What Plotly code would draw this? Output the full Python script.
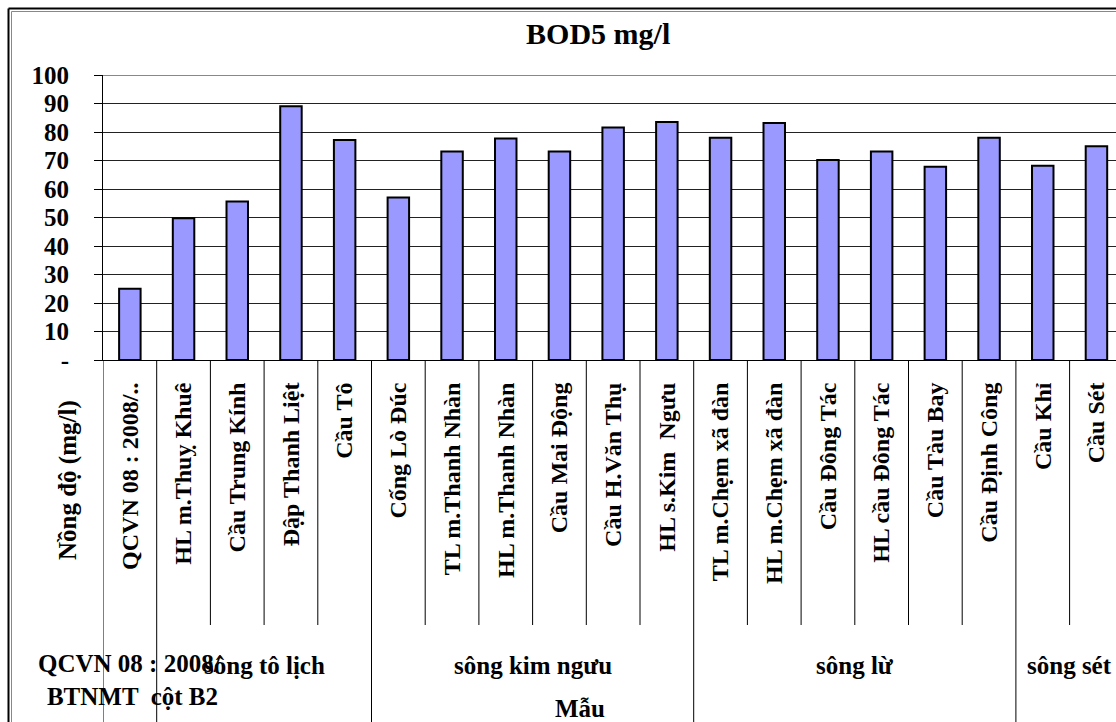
import plotly.graph_objects as go

categories = ["QCVN 08 : 2008/..", "HL m.Thuỵ Khuê", "Cầu Trung Kính", "Đập Thanh Liệt", "Cầu Tô",
              "Cống Lò Đúc", "TL m.Thanh Nhàn", "HL m.Thanh Nhàn", "Cầu Mai Động", "Cầu H.Văn Thụ",
              "HL s.Kim  Ngưu", "TL m.Chẹm xã đàn", "HL m.Chẹm xã đàn", "Cầu Đông Tác", "HL cầu Đông Tác",
              "Cầu Tàu Bay", "Cầu Định Công", "Cầu Khỉ", "Cầu Sét"]
values = [25, 49.7, 55.6, 89, 77.2, 57, 73.2, 77.7, 73.2, 81.6, 83.5, 78, 83.2, 70.2, 73.2, 67.8, 78, 68.2, 75]
group_names = ["QCVN 08 : 2008/<br> BTNMT  cột B2", "sông tô lịch", "sông kim ngưu", "sông lừ", "sông sét"]
group_sizes = [1, 4, 6, 6, 2]
top_label = "Mẫu"
y_ticks = [0, 10, 20, 30, 40, 50, 60, 70, 80, 90, 100]
y_ticktext = ["-", "10", "20", "30", "40", "50", "60", "70", "80", "90", "100"]

W, H = 1116, 722
L, R, T, B = 103, 0, 75, 362
pw, ph = W - L - R, H - T - B
cat_px = 53.7
serif = "Liberation Serif"

def py(pix):  # pixel y -> paper y
    return (H - B - pix) / ph

def px(pix):  # pixel x -> paper x
    return (pix - L) / pw

fig = go.Figure(go.Bar(
    x=categories, y=values, width=0.4,
    marker=dict(color="#9999FF", line=dict(color="black", width=2)),
))

shapes = []
annotations = []
start = 0
for gname, gsize in zip(group_names, group_sizes):
    shapes.append(dict(type="line", xref="x", yref="paper", x0=start - 0.5, x1=start - 0.5,
                       y0=0, y1=py(H + 5), line=dict(color="black", width=1)))
    for k in range(1, gsize):
        b = start + k - 0.5
        shapes.append(dict(type="line", xref="x", yref="paper", x0=b, x1=b,
                           y0=0, y1=py(625), line=dict(color="black", width=1)))
    center = start + (gsize - 1) / 2
    if gsize == 1:
        annotations.append(dict(text=f"<b>{gname}</b>", xref="x", yref="paper", x=center, y=py(680),
                                showarrow=False, font=dict(family=serif, size=25, color="black"),
                                align="center", yanchor="middle"))
    else:
        annotations.append(dict(text=f"<b>{gname}</b>", xref="x", yref="paper", x=center, y=py(665),
                                showarrow=False, font=dict(family=serif, size=25, color="black"),
                                yanchor="middle"))
    start += gsize
shapes.append(dict(type="line", xref="x", yref="paper", x0=start - 0.5, x1=start - 0.5,
                   y0=0, y1=py(H + 5), line=dict(color="black", width=1)))

annotations.append(dict(text=f"<b>{top_label}</b>", xref="paper", yref="paper", x=px(580), y=py(708),
                        showarrow=False, font=dict(family=serif, size=25, color="black"), yanchor="middle"))
annotations.append(dict(text="<b>Nồng độ (mg/l)</b>", xref="paper", yref="paper", x=px(68), y=py(480),
                        showarrow=False, textangle=-90, font=dict(family=serif, size=25, color="black"),
                        xanchor="center", yanchor="middle"))

shapes.append(dict(type="line", xref="paper", yref="y", x0=0, x1=1, y0=100, y1=100,
                   line=dict(color="#888888", width=2)))
for xx, col, wd in [(8.5, "black", 2), (11.5, "#888888", 1)]:
    shapes.append(dict(type="line", xref="paper", yref="paper", x0=px(xx), x1=px(xx),
                       y0=py(xx), y1=py(H + 5), line=dict(color=col, width=wd)))
    shapes.append(dict(type="line", xref="paper", yref="paper", x0=px(xx), x1=px(W + 5),
                       y0=py(xx), y1=py(xx), line=dict(color=col, width=wd)))

fig.update_layout(
    width=W, height=H,
    margin=dict(l=L, r=R, t=T, b=B, autoexpand=False),
    paper_bgcolor="white", plot_bgcolor="white",
    showlegend=False,
    title=dict(text="<b>BOD5 mg/l</b>", x=0.536, xanchor="center", y=1 - 33 / H, yanchor="middle",
               font=dict(family=serif, size=30, color="black")),
    shapes=shapes, annotations=annotations,
    bargap=0.6,
)
fig.update_xaxes(
    type="category", range=[-0.5, -0.5 + pw / cat_px],
    tickvals=categories, ticktext=[f"<b>{c}</b>" for c in categories],
    tickangle=-90, tickfont=dict(family=serif, size=24, color="black"),
    showline=True, linecolor="black", linewidth=1, ticks="", showgrid=False,
    ticklabelstandoff=12,
)
fig.update_yaxes(
    range=[0, 100], tickvals=y_ticks, ticktext=[f"<b>{t}</b>" for t in y_ticktext],
    tickfont=dict(family=serif, size=25, color="black"),
    ticks="outside", ticklen=8, tickcolor="black",
    showline=True, linecolor="black", linewidth=1,
    showgrid=True, gridcolor="#222222", gridwidth=1,
    zeroline=False, ticklabelstandoff=20,
)
fig.write_html("out.html")
